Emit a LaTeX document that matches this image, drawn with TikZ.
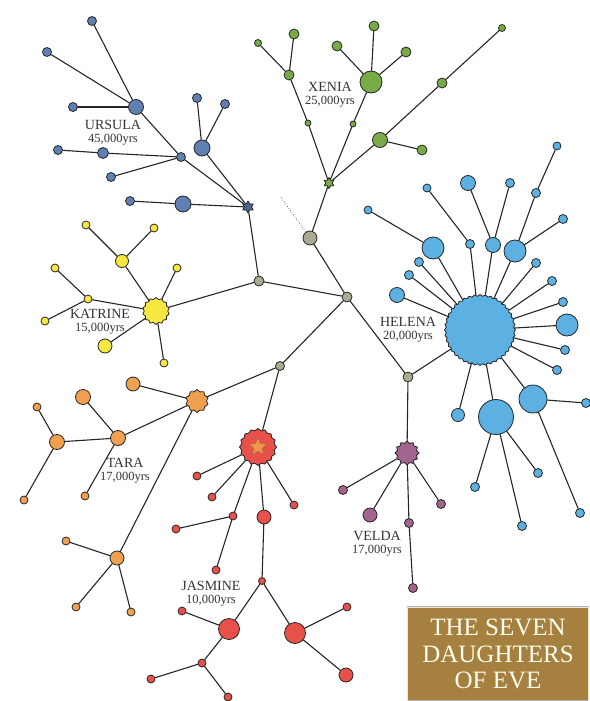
\documentclass[tikz,border=0pt]{standalone}
\usepackage{fontspec}
\setmainfont{Liberation Serif}
\usetikzlibrary{shapes.geometric}
\definecolor{mauU}{HTML}{5E80B2}
\definecolor{mauG}{HTML}{78AA48}
\definecolor{mauK}{HTML}{F6E840}
\definecolor{mauT}{HTML}{F0A04E}
\definecolor{mauJ}{HTML}{E8504A}
\definecolor{mauH}{HTML}{5CB0E2}
\definecolor{mauV}{HTML}{A46490}
\definecolor{mauN}{HTML}{ABAA92}
\definecolor{mauHop}{HTML}{A5803E}
\newcommand{\soNam}[1]{{\fontsize{12.5}{13}\selectfont #1}}
\begin{document}
\begin{tikzpicture}[x=1pt, y=-1pt, line join=round, line cap=round,
	nut/.style={circle, draw=black!85, line width=0.8pt, inner sep=0pt, minimum size=#1},
	sao/.style 2 args={star, star points=#1, star point ratio=#2, draw=black!85, line width=0.8pt, inner sep=0pt},
	canh/.style={line width=1.1pt, black!85},
	nhan/.style={align=center, text=black!80, font=\fontsize{14}{13}\selectfont},
	u/.style={nut=#1, fill=mauU}, g/.style={nut=#1, fill=mauG},
	k/.style={nut=#1, fill=mauK}, t/.style={nut=#1, fill=mauT},
	j/.style={nut=#1, fill=mauJ}, h/.style={nut=#1, fill=mauH},
	v/.style={nut=#1, fill=mauV}, n/.style={nut=#1, fill=mauN},
	hop/.style={rectangle, fill=mauHop, draw=black!30, double=white!80!mauHop, line width=0.6pt,
		minimum width=181pt, minimum height=94pt, align=center, text=white!94!yellow,
		font=\fontsize{25}{26.5}\selectfont}]
	%Khung hình.
	\useasboundingbox (0,0) rectangle (589,701);
	%Các nút gốc.
	\foreach \ten/\x/\y/\d in {n1/310/238/14, n2/259/281/10, n3/347/297/10, n4/280/366/9, n5/408/377/10}{
		\node[n=\d] (\ten) at (\x,\y) {};
	}
	\coordinate (cham) at (280,196);
	%Các ngôi sao.
	\node[sao={6}{1.7}, minimum size=12pt, fill=mauU!80!black] (U0) at (248,207) {};
	\node[sao={6}{1.7}, minimum size=11pt, fill=mauG] (G0) at (329,183) {};
	\node[sao={14}{1.15}, minimum size=27pt, fill=mauK] (K) at (156,311) {};
	\node[sao={10}{1.2}, minimum size=23pt, fill=mauT] (T) at (197,401) {};
	\node[sao={16}{1.12}, minimum size=37pt, fill=mauJ] (J) at (258,447) {};
	\node[star, star points=5, star point ratio=2.2, fill=mauT!85!mauJ, draw=mauT!60!black, line width=0.3pt,
		inner sep=0pt, minimum size=19pt] (J0) at (258,447) {};
	\node[sao={12}{1.22}, minimum size=24pt, fill=mauV] (V) at (407,453) {};
	\node[sao={40}{1.05}, minimum size=71pt, fill=mauH] (H) at (480,330) {};
	%Ursula.
	\foreach \ten/\x/\y/\d in {U/136/107/15, u1/92/21/9, u2/47/52/9, u3/73/107/9, uj/181/157/9, u4/58/150/9,
		u5/103/153/11, u6/111/177/9, u7/197/98/9, u8/225/104/9, u9/202/148/16, u10/130/201/9, u11/183/204/16}{
		\node[u=\d] (\ten) at (\x,\y) {};
	}
	%Xenia.
	\foreach \ten/\x/\y/\d in {g1/258/43/7, g2/294/34/10, g3/289/75/10, g4/308/123/6, g5/374/26/10,
		g6/337/46/10, G/371/82/22, g7/406/52/10, g8/353/124/6, g9/502/28/7, g10/442/83/10,
		g11/380/140/15, g12/422/150/10}{
		\node[g=\d] (\ten) at (\x,\y) {};
	}
	%Katrine.
	\foreach \ten/\x/\y/\d in {k1/122/261/13, k2/86/225/8, k3/154/228/8, k4/177/268/8, k5/88/299/8,
		k6/55/268/8, k7/45/321/8, k8/105/346/14, k9/164/363/8}{
		\node[k=\d] (\ten) at (\x,\y) {};
	}
	%Tara.
	\foreach \ten/\x/\y/\d in {t1/133/384/14, t2/83/397/15, t3/118/438/15, t4/37/407/8, t5/57/442/15,
		t6/24/500/8, t7/85/496/8, t8/117/558/14, t9/66/541/8, t10/76/607/8, t11/131/612/8}{
		\node[t=\d] (\ten) at (\x,\y) {};
	}
	%Jasmine.
	\foreach \ten/\x/\y/\d in {j1/197/476/8, j2/212/497/8, j3/233/516/8, j4/176/529/8, j5/216/570/8,
		j6/264/517/14, j7/294/505/8, j8/262/581/7, j9/229/629/21, j10/182/611/8, j11/202/663/8,
		j12/151/679/8, j13/228/697/8, j14/295/633/21, j15/347/607/8, j16/346/675/14}{
		\node[j=\d] (\ten) at (\x,\y) {};
	}
	%Helena.
	\foreach \ten/\x/\y/\d in {h1/368/210/8, h2/433/248/22, h3/427/188/8, h4/470/244/9, h5/468/183/15,
		h6/493/245/15, h7/510/183/9, h8/557/146/8, h9/536/193/9, h10/515/251/22, h11/563/219/9,
		h12/419/262/9, h13/409/275/9, h14/397/295/15, h15/536/263/9, h16/552/281/9, h17/563/302/9,
		h18/567/325/22, h19/565/350/9, h20/557/370/9, h21/533/399/28, h22/586/403/9, h23/458/415/13,
		h24/496/417/35, h25/475/487/9, h26/522/526/9, h27/538/473/9, h28/580/513/9}{
		\node[h=\d] (\ten) at (\x,\y) {};
	}
	%Velda.
	\foreach \ten/\x/\y/\d in {v1/343/490/9, v2/370/515/14, v3/409/523/9, v4/413/588/9, v5/441/504/9}{
		\node[v=\d] (\ten) at (\x,\y) {};
	}
	%Nối các nút.
	\foreach \a/\b in {U0/n2, n2/n3, n1/G0, n1/n3, n3/n4, n3/n5, n4/T, n4/J, n5/H, n5/V, K/n2,
		u1/U, u2/U, u3/U, U/uj, u4/u5, u5/uj, u6/uj, uj/U0, u7/u9, u8/u9, u9/U0, u10/u11, u11/U0,
		g1/g3, g2/g3, g3/g4, g4/G0, g5/G, g6/G, g7/G, G/g8, g8/G0, g9/g10, g10/g11, g11/G0, g11/g12,
		K/k1, k1/k2, k1/k3, K/k4, K/k5, k5/k6, k5/k7, K/k8, K/k9,
		T/t1, T/t3, t2/t3, t3/t5, t5/t4, t5/t6, t3/t7, T/t8, t8/t9, t8/t10, t8/t11,
		J/j1, J/j2, J/j3, j3/j4, j3/j5, J/j6, j6/j8, j8/j9, j8/j14, j9/j10, j9/j11, j11/j12, j11/j13,
		J/j7, j14/j15, j14/j16,
		h1/h2, h2/H, h3/h4, h4/H, h5/h6, h7/h6, h6/H, h8/h9, h9/h10, h11/h10, h10/H, h12/H, h13/H,
		h14/H, h15/H, h16/H, h17/H, h18/H, h19/H, h20/H, h21/H, h22/h21, h28/h21, h23/H, h24/H,
		h25/h24, h26/h24, h27/h24,
		V/v1, V/v2, V/v3, v3/v4, V/v5}{
		\draw[canh] (\a)--(\b);
	}
	\draw[black!70, line width=0.6pt, dotted] (n1)--(cham);
	%Nhãn.
	\node[nhan] (lU) at (113,133) {URSULA\\\soNam{45,000yrs}};
	\node[nhan] (lG) at (330,95) {XENIA\\\soNam{25,000yrs}};
	\node[nhan] (lK) at (100,322) {KATRINE\\\soNam{15,000yrs}};
	\node[nhan] (lH) at (408,330) {HELENA\\\soNam{20,000yrs}};
	\node[nhan] (lT) at (125,471) {TARA\\\soNam{17,000yrs}};
	\node[nhan] (lJ) at (211,594) {JASMINE\\\soNam{10,000yrs}};
	\node[nhan] (lV) at (377,544) {VELDA\\\soNam{17,000yrs}};
	%Hộp tiêu đề.
	\node[hop] (hop) at (498,654) {THE SEVEN\\DAUGHTERS\\OF EVE};
\end{tikzpicture}
\end{document}
